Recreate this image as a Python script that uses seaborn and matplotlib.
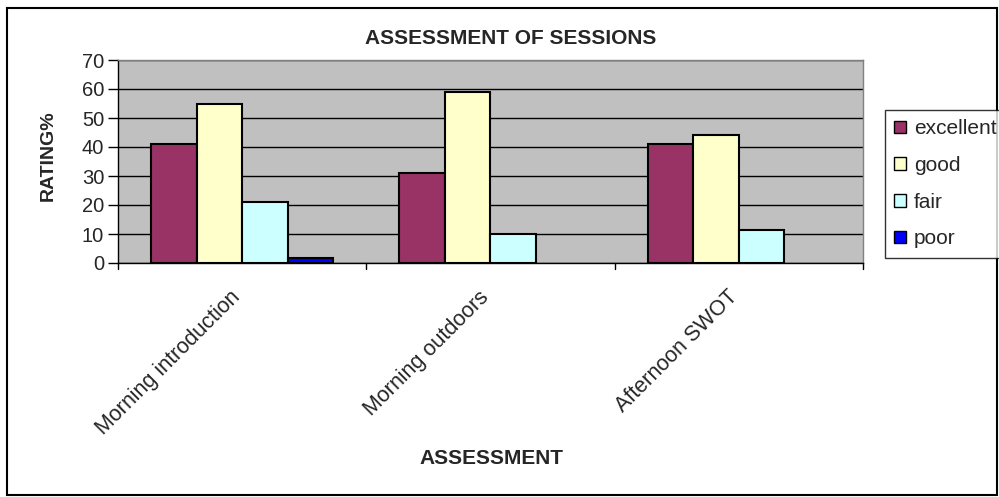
import matplotlib
matplotlib.use("Agg")
import matplotlib.pyplot as plt
import matplotlib.transforms as mtransforms
import seaborn as sns
import numpy as np
import pandas as pd
from matplotlib.patches import Rectangle

sessions = ["Morning introduction", "Morning outdoors", "Afternoon SWOT"]
tick_labels = ["Morning introduction", "Morning outdoors", "Afternoon SWOT"]
ratings = ["excellent", "good", "fair", "poor"]
excellent = [41, 31, 41]
good = [55, 59, 44]
fair = [21, 10, 11.5]
poor = [1.7, np.nan, np.nan]
colors = ["#993366", "#FFFFCC", "#CCFFFF", "#0000FF"]

rows = []
for r, vals in zip(ratings, [excellent, good, fair, poor]):
    for s, v in zip(sessions, vals):
        rows.append({"session": s, "rating": r, "value": v})
df = pd.DataFrame(rows)

sns.set_theme(style="white")
plt.rcParams["font.family"] = ["Liberation Sans", "DejaVu Sans"]

fig = plt.figure(figsize=(9.99, 4.97), dpi=100)
ax = fig.add_axes([118/999, 1 - 263/497, (863-118)/999, (263-60)/497])
ax.set_facecolor("#C0C0C0")

sns.barplot(data=df, x="session", y="value", hue="rating", order=sessions,
            hue_order=ratings, palette=colors, width=0.735, gap=0,
            edgecolor="black", linewidth=1.5, saturation=1, ax=ax, legend=False)

ax.set_ylim(0, 70)
ax.set_xlim(-0.5, 2.5)
ax.set_yticks(range(0, 71, 10))
ax.yaxis.grid(True, color="black", linewidth=1)
ax.set_axisbelow(True)
ax.tick_params(axis="y", left=True, length=7, width=1, color="black", labelsize=14.5, pad=3)
ax.set_xticks([0, 1, 2])
ax.set_xticklabels(tick_labels, rotation=45, ha="right", rotation_mode="anchor", fontsize=15.5)
ax.tick_params(axis="x", bottom=False, pad=11)
offset = mtransforms.ScaledTranslation(-12/100, 0, fig.dpi_scale_trans)
for lbl in ax.get_xticklabels():
    lbl.set_transform(lbl.get_transform() + offset)
for xb in [-0.5, 0.5, 1.5, 2.5]:
    ax.plot([xb, xb], [0, -2], color="black", lw=1, clip_on=False)
for side in ["top", "right"]:
    ax.spines[side].set_color("#808080")
    ax.spines[side].set_linewidth(1)
for side in ["left", "bottom"]:
    ax.spines[side].set_color("black")
    ax.spines[side].set_linewidth(1)

ax.set_xlabel("")
ax.set_ylabel("")
fig.text(491/999, 1 - 459/497, "ASSESSMENT", ha="center", va="center",
         fontsize=15, fontweight="bold")
fig.text(48/999, 1 - 156/497, "RATING%", ha="center", va="center",
         rotation=90, fontsize=14, fontweight="bold")
fig.text(511/999, 1 - 38/497, "ASSESSMENT OF SESSIONS", ha="center", va="center",
         fontsize=15, fontweight="bold")

handles = [Rectangle((0, 0), 1, 1, facecolor=c, edgecolor="black", linewidth=1) for c in colors]
leg = fig.legend(handles, ratings, loc="upper left", bbox_to_anchor=(885/999, 1 - 110/497),
                 frameon=True, fontsize=15, handlelength=0.55, handleheight=0.55,
                 handletextpad=0.4, labelspacing=0.85, borderpad=0.45, fancybox=False,
                 borderaxespad=0)
leg.get_frame().set_edgecolor("black")
leg.get_frame().set_linewidth(1)

fig.patches.append(Rectangle((7/999, 2/497), 990/999, 487/497, transform=fig.transFigure,
                             fill=False, edgecolor="black", linewidth=1.5))

fig.savefig("out.png", dpi=100)
